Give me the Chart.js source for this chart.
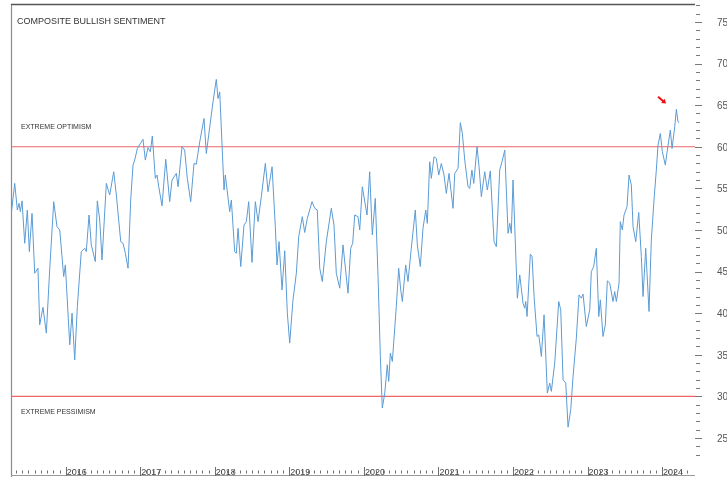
<!DOCTYPE html>
<html>
<head>
<meta charset="utf-8">
<script src="https://cdn.jsdelivr.net/npm/chart.js@4/dist/chart.umd.min.js"></script>
<style>
  html, body { margin: 0; padding: 0; background: #ffffff; }
  canvas { display: block; }
</style>
</head>
<body>
<canvas id="c" width="727" height="477"></canvas>
<script>
// ---- data (decimal years, sentiment %) ----
const dates = [
 2015.270,2015.316,2015.351,2015.374,2015.391,2015.414,2015.450,2015.485,2015.512,2015.548,
 2015.584,2015.628,2015.651,2015.695,2015.740,2015.785,2015.839,2015.883,2015.920,2015.973,
 2015.995,2016.054,2016.085,2016.121,2016.156,2016.209,2016.255,2016.276,2016.313,2016.343,
 2016.397,2016.424,2016.456,2016.487,2016.545,2016.590,2016.644,2016.679,2016.738,2016.769,
 2016.800,2016.836,2016.872,2016.903,2016.926,2016.961,2017.037,2017.068,2017.104,2017.135,
 2017.162,2017.202,2017.225,2017.248,2017.292,2017.342,2017.395,2017.426,2017.484,2017.507,
 2017.560,2017.596,2017.631,2017.677,2017.721,2017.752,2017.798,2017.855,2017.886,2017.918,
 2017.976,2018.020,2018.043,2018.066,2018.124,2018.141,2018.200,2018.222,2018.267,2018.289,
 2018.312,2018.348,2018.392,2018.423,2018.455,2018.499,2018.544,2018.580,2018.624,2018.678,
 2018.714,2018.768,2018.812,2018.835,2018.862,2018.902,2018.938,2018.973,2019.005,2019.049,
 2019.094,2019.126,2019.174,2019.206,2019.241,2019.304,2019.341,2019.375,2019.408,2019.442,
 2019.496,2019.563,2019.599,2019.630,2019.676,2019.720,2019.787,2019.823,2019.850,2019.877,
 2019.921,2019.944,2019.979,2020.042,2020.078,2020.113,2020.153,2020.190,2020.221,2020.247,
 2020.280,2020.314,2020.333,2020.355,2020.382,2020.435,2020.467,2020.494,2020.516,2020.561,
 2020.592,2020.636,2020.690,2020.717,2020.757,2020.793,2020.830,2020.851,2020.883,2020.905,
 2020.941,2020.972,2021.004,2021.039,2021.075,2021.106,2021.142,2021.196,2021.219,2021.263,
 2021.294,2021.321,2021.353,2021.397,2021.420,2021.449,2021.474,2021.518,2021.545,2021.576,
 2021.621,2021.656,2021.696,2021.746,2021.777,2021.822,2021.853,2021.890,2021.934,2021.957,
 2021.978,2022.001,2022.059,2022.091,2022.135,2022.158,2022.171,2022.189,2022.233,2022.256,
 2022.283,2022.323,2022.346,2022.381,2022.417,2022.461,2022.493,2022.515,2022.560,2022.614,
 2022.641,2022.672,2022.708,2022.739,2022.775,2022.806,2022.850,2022.886,2022.917,2022.940,
 2022.984,2023.030,2023.051,2023.083,2023.118,2023.151,2023.172,2023.208,2023.239,2023.266,
 2023.298,2023.342,2023.365,2023.387,2023.423,2023.440,2023.467,2023.490,2023.530,2023.557,
 2023.588,2023.611,2023.647,2023.687,2023.722,2023.745,2023.781,2023.825,2023.856,2023.892,
 2023.923,2023.946,2023.977,2024.004,2024.044,2024.071,2024.111,2024.134,2024.170,2024.192,
 2024.214,2024.228
];
const values = [
 52.0,55.6,52.4,53.2,52.2,53.5,48.4,52.4,47.4,52.0,
 44.8,45.4,38.6,40.7,37.6,45.2,53.4,50.4,50.0,44.4,
 45.8,36.2,40.0,34.4,40.8,47.4,47.8,47.4,51.8,48.2,
 46.2,53.5,51.2,46.4,55.6,54.2,57.0,54.2,48.6,48.4,
 47.2,45.4,53.6,57.8,58.4,59.8,60.9,58.4,59.9,59.4,
 61.3,56.2,56.6,55.2,52.9,58.5,53.4,56.0,56.8,55.2,
 60.0,59.6,56.2,53.4,58.0,57.9,60.6,63.4,59.2,61.4,
 65.4,68.1,65.8,66.6,54.8,56.6,52.2,53.6,47.4,47.2,
 50.2,45.6,50.6,51.0,53.4,46.1,53.4,51.0,54.0,58.0,
 54.6,57.6,50.4,45.8,48.6,42.8,47.5,40.0,36.4,41.6,
 44.8,49.2,51.6,49.7,51.4,53.4,52.6,52.4,45.4,43.8,
 48.6,52.6,50.6,44.8,43.0,48.2,42.4,47.8,48.4,51.8,
 51.6,50.0,55.2,51.8,57.0,49.4,53.8,44.4,34.8,28.6,
 30.4,33.8,31.8,35.2,34.2,40.8,45.4,42.8,41.4,45.8,
 43.8,47.8,52.4,48.2,45.6,50.2,52.4,50.8,58.2,56.2,
 58.8,58.6,56.6,58.0,56.6,54.4,56.8,52.6,56.8,57.4,
 62.9,61.6,58.4,55.2,55.0,57.2,55.6,60.0,57.6,54.0,
 57.0,54.8,57.1,48.6,48.0,57.2,58.2,59.6,49.6,50.8,
 49.6,56.0,41.8,44.6,41.2,40.6,41.4,39.6,47.1,46.8,
 42.0,37.2,37.4,34.8,39.8,30.4,31.6,30.6,34.0,41.4,
 40.4,32.0,31.6,26.3,28.4,32.4,37.0,42.2,41.8,42.3,
 38.4,40.4,45.0,45.6,47.8,39.6,41.6,37.2,38.6,43.9,
 43.6,41.4,42.6,41.4,43.6,51.0,50.0,51.8,52.8,56.6,
 55.4,50.4,48.6,52.1,46.8,42.0,47.8,40.2,48.8,53.6,
 57.2,60.2,61.6,59.4,57.8,59.6,62.0,59.8,62.4,64.5,
 63.0,62.9
];
const optimismLevel = 60;
const pessimismLevel = 30;
const yTickLabels = [25, 30, 35, 40, 45, 50, 55, 60, 65, 70, 75];
const yearTicks = [2016, 2017, 2018, 2019, 2020, 2021, 2022, 2023, 2024];
const yearLabels = ['2016','2017','2018','2019','2020','2021','2022','2023','2024'];
const titleText = 'COMPOSITE BULLISH SENTIMENT';
const optimismText = 'EXTREME OPTIMISM';
const pessimismText = 'EXTREME PESSIMISM';
const arrowFrom = {x: 2023.946, y: 66.0};
const arrowTo = {x: 2024.054, y: 65.2};

const X_MIN = 2015.266, X_MAX = 2024.442;
const Y_MIN = 20.43, Y_MAX = 77.16;

const FONT = '"Liberation Sans", Arial, Helvetica, sans-serif';

const decorPlugin = {
  id: 'decor',
  beforeDatasetsDraw(chart) {
    const ctx = chart.ctx, a = chart.chartArea;
    const xs = chart.scales.x, ys = chart.scales.y;
    ctx.save();
    // frame
    ctx.lineWidth = 1.2;
    ctx.strokeStyle = '#8c8c8c';
    ctx.beginPath(); ctx.moveTo(a.left + 0.5, a.top); ctx.lineTo(a.left + 0.5, chart.height); ctx.stroke();
    ctx.strokeStyle = '#9a9a9a';
    ctx.beginPath(); ctx.moveTo(a.left, a.bottom - 0.5); ctx.lineTo(a.right, a.bottom - 0.5); ctx.stroke();
    ctx.strokeStyle = '#555555';
    ctx.lineWidth = 1.4;
    ctx.beginPath(); ctx.moveTo(a.left, a.top + 0.5); ctx.lineTo(a.right, a.top + 0.5); ctx.stroke();

    // right axis ticks
    ctx.lineWidth = 1;
    ctx.strokeStyle = '#7a7a7a';
    for (let v = 23; v <= 77; v++) {
      const y = Math.round(ys.getPixelForValue(v)) + 0.5;
      const major = v % 5 === 0;
      ctx.beginPath();
      ctx.moveTo(a.right + (major ? 0 : 1), y);
      ctx.lineTo(a.right + (major ? 7 : 5), y);
      ctx.stroke();
    }
    ctx.fillStyle = '#555555';
    ctx.font = '10px ' + FONT;
    ctx.textAlign = 'left';
    ctx.textBaseline = 'middle';
    yTickLabels.forEach(v => {
      ctx.fillText(String(v), a.right + 22, ys.getPixelForValue(v) + 1);
    });

    // bottom axis ticks (monthly minor, yearly major)
    ctx.strokeStyle = '#6e6e6e';
    for (let yr = 2015; yr <= 2024; yr++) {
      for (let m = 0; m < 12; m++) {
        const t = yr + m / 12;
        if (t < X_MIN || t > X_MAX - 0.05) continue;
        const x = Math.round(xs.getPixelForValue(t)) + 0.5;
        ctx.beginPath();
        if (m === 0) { ctx.moveTo(x, a.bottom - 9); ctx.lineTo(x, a.bottom); }
        else { ctx.moveTo(x, a.bottom - 5.5); ctx.lineTo(x, a.bottom - 2.5); }
        ctx.stroke();
      }
    }
    ctx.fillStyle = '#444444';
    ctx.font = '9px ' + FONT;
    ctx.textBaseline = 'alphabetic';
    yearTicks.forEach((t, i) => {
      ctx.fillText(yearLabels[i], xs.getPixelForValue(t) + 1, a.bottom - 1);
    });

    // texts
    ctx.fillStyle = '#333333';
    ctx.font = '9px ' + FONT;
    ctx.fillText(titleText, a.left + 6, a.top + 20);
    ctx.font = '7px ' + FONT;
    ctx.fillText(optimismText, a.left + 10, ys.getPixelForValue(optimismLevel) - 18);
    ctx.fillText(pessimismText, a.left + 10, ys.getPixelForValue(pessimismLevel) + 18);
    ctx.restore();
  },
  afterDatasetsDraw(chart) {
    const ctx = chart.ctx;
    const xs = chart.scales.x, ys = chart.scales.y;
    const x1 = xs.getPixelForValue(arrowFrom.x), y1 = ys.getPixelForValue(arrowFrom.y);
    const x2 = xs.getPixelForValue(arrowTo.x), y2 = ys.getPixelForValue(arrowTo.y);
    const ang = Math.atan2(y2 - y1, x2 - x1);
    ctx.save();
    ctx.strokeStyle = '#ee1111';
    ctx.fillStyle = '#ee1111';
    ctx.lineWidth = 2;
    ctx.beginPath(); ctx.moveTo(x1, y1); ctx.lineTo(x2 - 2 * Math.cos(ang), y2 - 2 * Math.sin(ang)); ctx.stroke();
    ctx.beginPath();
    ctx.moveTo(x2, y2);
    ctx.lineTo(x2 - 5 * Math.cos(ang - 0.6), y2 - 5 * Math.sin(ang - 0.6));
    ctx.lineTo(x2 - 5 * Math.cos(ang + 0.6), y2 - 5 * Math.sin(ang + 0.6));
    ctx.closePath(); ctx.fill();
    ctx.restore();
  }
};

new Chart(document.getElementById('c'), {
  type: 'line',
  data: {
    datasets: [
      {
        label: 'Composite Bullish Sentiment',
        data: dates.map((d, i) => ({x: d, y: values[i]})),
        borderColor: 'rgb(91,155,213)',
        borderWidth: 1,
        pointRadius: 0,
        tension: 0,
        fill: false,
        order: 1
      },
      {
        label: 'Extreme Optimism',
        data: [{x: X_MIN, y: optimismLevel}, {x: X_MAX, y: optimismLevel}],
        borderColor: 'rgb(238,100,100)',
        borderWidth: 1.2,
        pointRadius: 0,
        fill: false,
        order: 2
      },
      {
        label: 'Extreme Pessimism',
        data: [{x: X_MIN, y: pessimismLevel}, {x: X_MAX, y: pessimismLevel}],
        borderColor: 'rgb(238,100,100)',
        borderWidth: 1.2,
        pointRadius: 0,
        fill: false,
        order: 2
      }
    ]
  },
  options: {
    responsive: false,
    devicePixelRatio: 1,
    animation: false,
    parsing: true,
    layout: { padding: { left: 11, right: 32, top: 4, bottom: 1 } },
    plugins: { legend: { display: false }, tooltip: { enabled: false } },
    scales: {
      x: { type: 'linear', min: X_MIN, max: X_MAX, display: false },
      y: { type: 'linear', min: Y_MIN, max: Y_MAX, display: false }
    }
  },
  plugins: [decorPlugin]
});
</script>
</body>
</html>
